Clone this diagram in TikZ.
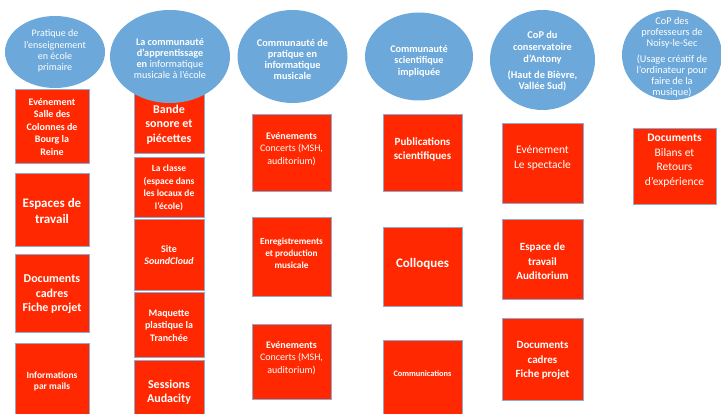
\documentclass[tikz,border=0pt]{standalone}
\usepackage{fontspec}
\setmainfont{Carlito}
\usetikzlibrary{shapes.geometric}
\definecolor{boxred}{RGB}{255,40,0}
\definecolor{boxedge}{RGB}{140,170,210}
\definecolor{ellblue}{RGB}{108,168,218}
\tikzset{
  redbox/.style={draw=boxedge, fill=boxred, line width=0.9pt, inner sep=0pt},
  ell/.style={ellipse, fill=ellblue, draw=none, inner sep=0pt},
  wtxt/.style={text=white, align=center, inner sep=0pt},
}
\newcommand{\fs}[2]{\fontsize{#1}{#2}\selectfont}
\begin{document}
\begin{tikzpicture}[x=1pt,y=-1pt]
\useasboundingbox (0,0) rectangle (721,414);
\clip (0,0) rectangle (721,414);
\fill[white] (0,0) rectangle (721,414);
% column 1
\node[redbox, minimum width=74pt, minimum height=74pt] (c1a) at (52,126) {};
\node[wtxt, font=\bfseries\fs{10}{12.5}] (c1at) at (52,127) {Evénement\\Salle des\\Colonnes de\\Bourg la\\Reine};
\node[redbox, minimum width=74pt, minimum height=73pt] (c1b) at (52,209.5) {};
\node[wtxt, font=\bfseries\fs{13}{15.6}] (c1bt) at (52,211) {Espaces de\\travail};
\node[redbox, minimum width=74pt, minimum height=78pt] (c1c) at (52,293) {};
\node[wtxt, font=\bfseries\fs{12}{14.6}] (c1ct) at (52,294.5) {Documents\\cadres\\Fiche projet};
\node[redbox, minimum width=74pt, minimum height=80pt] (c1d) at (52,383) {};
\node[wtxt, font=\bfseries\fs{9.5}{11.7}] (c1dt) at (52,381.5) {Informations\\par mails};
% column 2
\node[redbox, minimum width=70pt, minimum height=65pt] (c2a) at (169,120.5) {};
\node[redbox, minimum width=70pt, minimum height=60pt] (c2b) at (169,187) {};
\node[wtxt, font=\bfseries\fs{9.5}{12.5}] (c2bt) at (169,188) {La classe\\(espace dans\\les locaux de\\l’école)};
\node[redbox, minimum width=70pt, minimum height=71pt] (c2c) at (169,254.5) {};
\node[wtxt, font=\bfseries\fs{10}{12.5}] (c2ct) at (169,255) {Site\\\textit{SoundCloud}};
\node[redbox, minimum width=70pt, minimum height=65pt] (c2d) at (169,324.5) {};
\node[wtxt, font=\bfseries\fs{10}{12.5}] (c2dt) at (169,325.5) {Maquette\\plastique la\\Tranchée};
\node[redbox, minimum width=70pt, minimum height=64pt] (c2e) at (169,392) {};
\node[wtxt, font=\bfseries\fs{12}{13.8}] (c2et) at (169,392) {Sessions\\Audacity};
% column 3
\node[redbox, minimum width=79pt, minimum height=77pt] (c3a) at (291.5,152.5) {};
\node[wtxt, font=\fs{10}{12.3}] (c3at) at (291.5,149) {\textbf{Evénements}\\Concerts (MSH,\\auditorium)};
\node[redbox, minimum width=79pt, minimum height=79pt] (c3b) at (291.5,256.5) {};
\node[wtxt, font=\bfseries\fs{9.3}{12}] (c3bt) at (291.5,253) {Enregistrements\\et production\\musicale};
\node[redbox, minimum width=79pt, minimum height=75pt] (c3c) at (291.5,361.5) {};
\node[wtxt, font=\fs{10}{12.3}] (c3ct) at (291.5,358) {\textbf{Evénements}\\Concerts (MSH,\\auditorium)};
% column 4
\node[redbox, minimum width=79pt, minimum height=77pt] (c4a) at (422.5,152.5) {};
\node[wtxt, font=\bfseries\fs{11}{13.5}] (c4at) at (422.5,149.5) {Publications\\scientifiques};
\node[redbox, minimum width=79pt, minimum height=79pt] (c4b) at (422.5,266.5) {};
\node[wtxt, font=\bfseries\fs{13}{15}] (c4bt) at (422.5,264) {Colloques};
\node[redbox, minimum width=79pt, minimum height=80pt] (c4c) at (422.5,380) {};
\node[wtxt, font=\bfseries\fs{8.3}{10}] (c4ct) at (422.5,374) {Communications};
% column 5
\node[redbox, minimum width=81pt, minimum height=80pt] (c5a) at (542.5,163) {};
\node[wtxt, font=\fs{11.5}{15}] (c5at) at (542.5,158.5) {Evénement\\Le spectacle};
\node[redbox, minimum width=81pt, minimum height=80pt] (c5b) at (542.5,259) {};
\node[wtxt, font=\bfseries\fs{11}{14.5}] (c5bt) at (542.5,261.5) {Espace de\\travail\\Auditorium};
\node[redbox, minimum width=81pt, minimum height=82pt] (c5c) at (542.5,359) {};
\node[wtxt, font=\bfseries\fs{11}{14.5}] (c5ct) at (542.5,360.5) {Documents\\cadres\\Fiche projet};
% column 6
\node[redbox, minimum width=83pt, minimum height=76pt] (c6a) at (674.5,166) {};
\node[wtxt, font=\fs{11.5}{14.5}] (c6at) at (674.5,160.5) {\textbf{Documents}\\Bilans et\\Retours\\d’expérience};
% ellipses
\node[ell, minimum width=100pt, minimum height=72pt] (e1) at (55,52) {};
\node[wtxt, font=\fs{10}{11.3}] (e1t) at (55,51) {Pratique de\\l’enseignement\\en école\\primaire};
\node[ell, minimum width=120pt, minimum height=93pt] (e2) at (170,56.5) {};
\node[wtxt, font=\fs{10.2}{11.2}] (e2t) at (170,58.5) {\textbf{La communauté}\\\textbf{d’apprentissage}\\\textbf{en} informatique\\musicale à l’école};
\node[redbox, draw=none, minimum width=69pt, minimum height=40pt] (c2aclip) at (169,133.5) {};
\node[wtxt, font=\bfseries\fs{12}{14.4}] (c2at) at (169,124.5) {Bande\\sonore et\\piécettes};
\node[ell, minimum width=110pt, minimum height=93pt] (e3) at (292.5,56.5) {};
\node[wtxt, font=\bfseries\fs{10.3}{11}] (e3t) at (292.5,59) {Communauté de\\pratique en\\informatique\\musicale};
\node[ell, minimum width=108pt, minimum height=88pt] (e4) at (419,56.5) {};
\node[wtxt, font=\bfseries\fs{10.2}{11.4}] (e4t) at (419,61) {Communauté\\scientifique\\impliquée};
\node[ell, minimum width=105pt, minimum height=100pt] (e5) at (542.5,60) {};
\node[wtxt, font=\bfseries\fs{10.4}{11.8}] (e5t) at (542.5,61.5) {CoP du\\conservatoire\\d’Antony\\[4pt](Haut de Bièvre,\\Vallée Sud)};
\node[ell, minimum width=100pt, minimum height=90pt] (e6) at (672,55) {};
\node[wtxt, font=\fs{10.3}{11}] (e6t) at (672,57.5) {CoP des\\professeurs de\\Noisy-le-Sec\\[5pt](Usage créatif de\\l’ordinateur pour\\faire de la\\musique)};
\end{tikzpicture}
\end{document}
